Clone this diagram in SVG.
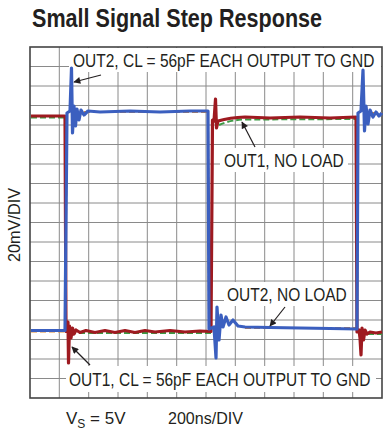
<svg xmlns="http://www.w3.org/2000/svg" width="383" height="431" viewBox="0 0 383 431">
<style>
.grid{stroke:#8a8a8a;stroke-width:1;fill:none}
.frame{stroke:#444;stroke-width:1.6;fill:none}
.lbl{font-family:"Liberation Sans",Arial,sans-serif;font-size:19px;fill:#231f20}
.ax{font-family:"Liberation Sans",Arial,sans-serif;font-size:17px;fill:#231f20}
.box{fill:#fff;stroke:none}
.red{stroke:#9e1a20;stroke-width:3.2;fill:none;stroke-linejoin:round}
.blue{stroke:#3b5fbf;stroke-width:3.2;fill:none;stroke-linejoin:round}
.green{stroke:#3d9b45;stroke-width:2;fill:none;stroke-dasharray:6 3}
.orange{stroke:#e08a33;stroke-width:2;fill:none;stroke-dasharray:6 3}
.arr{stroke:#231f20;stroke-width:1.2;fill:none;marker-end:url(#ah)}
</style>
<defs>
<marker id="ah" viewBox="0 0 10 10" refX="9" refY="5" markerWidth="9" markerHeight="7" orient="auto" markerUnits="userSpaceOnUse">
<path d="M0,0 L10,5 L0,10 Z" fill="#231f20"/>
</marker>
</defs>
<rect width="383" height="431" fill="#fff"/>
<text transform="translate(32,27) scale(0.863,1)" font-family="'Liberation Sans',Arial,sans-serif" font-weight="bold" font-size="25" fill="#231f20">Small Signal Step Response</text>
<g id="grid">
<path class="grid" d="M59.3,47V398M88.7,47V398M118,47V398M147.3,47V398M176.7,47V398M206,47V398M235.3,47V398M264.7,47V398M294,47V398M323.3,47V398M352.7,47V398"/>
<path class="grid" d="M30,66.5H382M30,86H382M30,105.5H382M30,125H382M30,144.5H382M30,164H382M30,183.5H382M30,203H382M30,222.5H382M30,242H382M30,261.5H382M30,281H382M30,300.5H382M30,320H382M30,339.5H382M30,359H382M30,378.5H382"/>
<rect class="frame" x="30" y="47" width="352" height="351"/>
</g>
<g id="label-boxes">
<rect class="box" x="69" y="48" width="312" height="24"/>
<rect class="box" x="220" y="148" width="128" height="24"/>
<rect class="box" x="224" y="282" width="126" height="24"/>
<rect class="box" x="66" y="366" width="310" height="26"/>
</g>
<g id="traces">
<path class="green" d="M31,117.5H64M70,333H211M219,125Q232,119 250,119.5L356,119M368,334H382"/>
<path class="orange" d="M31,331.5H64M65,331.5L67,113M84,112H208L209,330M245,328H357L358,114M372,113H382"/>
<path id="out1" class="red" d="M31,116H65L66,331.5L67,330L68,322L68.5,363L69.5,326L71,338L72.5,328L74,334L76,330L80,332.5L86,330.5L95,332.5L105,330.5L115,332.5L125,330.5L135,332.5L145,330.5L155,332L170,330.5L185,332L200,331L211,331.5L212.5,120L214,121L215.5,99L216.5,128L218,121Q230,117.5 245,117L270,118L300,117L330,118L356,117L357,332L359,330L360,338L361,355L362,328L363.5,340L365,330L367,334L370,332L376,333L382,332"/>
<path id="out2" class="blue" d="M31,330.5H65L67,113L70,111L71.5,68L72.5,133L74,106L75.5,126L77,109L79,120L81,110L84,115L88,111L100,112L130,111L160,112L190,111L208,111L209,329L214,327L216,358L217,307L219,340L221,315L223,327L226,317L229,325L233,320L238,326L245,327L270,327.5L300,328L330,328.5L357,329L358,113L361,111L363,70L364.5,131L366,106L368,124L370,110L373,117L376,112L379,116L382,113"/>
</g>
<g id="labels">
<text class="lbl" transform="translate(73,66.5) scale(0.817,1)">OUT2, CL = 56pF EACH OUTPUT TO GND</text>
<text class="lbl" transform="translate(224,167) scale(0.817,1)">OUT1, NO LOAD</text>
<text class="lbl" transform="translate(227,301) scale(0.817,1)">OUT2, NO LOAD</text>
<text class="lbl" transform="translate(69,386) scale(0.817,1)">OUT1, CL = 56pF EACH OUTPUT TO GND</text>
<text class="ax" transform="translate(20,225) rotate(-90) scale(0.955,1)" text-anchor="middle">20mV/DIV</text>
<text class="ax" x="66" y="424">V<tspan font-size="12" dy="4">S</tspan><tspan dy="-4"> = 5V</tspan></text>
<text class="ax" transform="translate(168,424) scale(0.945,1)">200ns/DIV</text>
</g>
<g id="connectors">
<path class="arr" d="M101,75L74,82"/>
<path class="arr" d="M255,147L242,122"/>
<path class="arr" d="M285,307L270,326"/>
<path class="arr" d="M90,365L72,347"/>
</g>
</svg>
